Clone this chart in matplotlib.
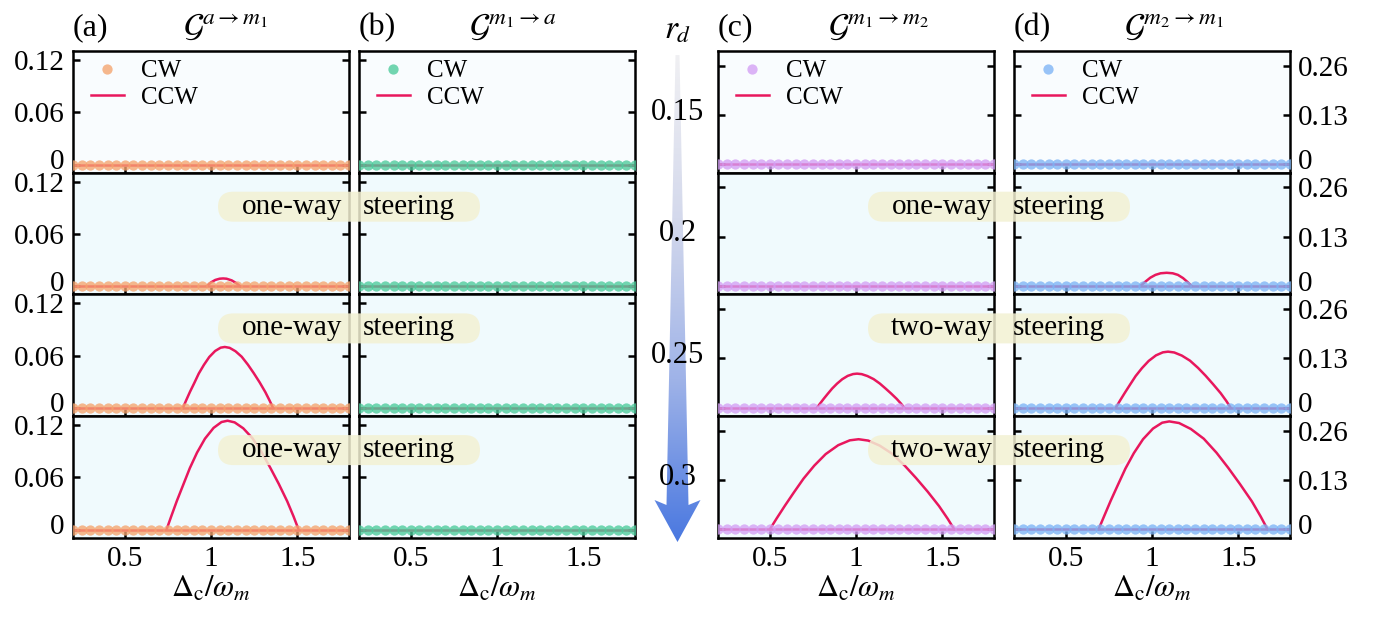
import numpy as np
import matplotlib.pyplot as plt
import matplotlib.transforms as mtransforms
from matplotlib.colors import LinearSegmentedColormap
from matplotlib.patches import Polygon, FancyBboxPatch

plt.rcParams['font.family'] = ['Liberation Serif', 'DejaVu Serif']
plt.rcParams['mathtext.fontset'] = 'stix'

W, H = 1389, 624

# ---- data ----
cw_x = [round(0.2 + 0.05 * i, 2) for i in range(33)]
cw_y = [0.0] * 33

panel_tags = ['(a)', '(b)', '(c)', '(d)']
panel_titles = [r'$\mathcal{G}^{a\rightarrow m_1}$', r'$\mathcal{G}^{m_1\rightarrow a}$',
                r'$\mathcal{G}^{m_1\rightarrow m_2}$', r'$\mathcal{G}^{m_2\rightarrow m_1}$']
cw_colors = ['#f5a46e', '#4ccb9b', '#d39ff5', '#7db4f6']
ccw_color = '#e8175d'
rd_values = ['0.15', '0.2', '0.25', '0.3']

# CCW curves (x, y) per panel, per row (None = zero everywhere)
ccw_a = [None,
         ([0.975, 1.0, 1.025, 1.05, 1.07, 1.09, 1.12, 1.145, 1.17],
          [0, 0.0045, 0.0073, 0.0087, 0.009, 0.0087, 0.0068, 0.0038, 0]),
         ([0.837, 0.856, 0.878, 0.903, 0.929, 0.959, 0.990, 1.024, 1.056, 1.08,
           1.108, 1.142, 1.178, 1.214, 1.248, 1.282, 1.315, 1.340, 1.36],
          [0, 0.0088, 0.0185, 0.0286, 0.0395, 0.0495, 0.0585, 0.0654, 0.0692, 0.070,
           0.069, 0.0651, 0.0588, 0.0497, 0.0399, 0.0294, 0.0182, 0.0084, 0]),
         ([0.742, 0.770, 0.802, 0.838, 0.877, 0.919, 0.965, 1.015, 1.061, 1.096,
           1.137, 1.187, 1.240, 1.294, 1.343, 1.393, 1.442, 1.479, 1.508],
          [0, 0.0156, 0.033, 0.051, 0.0705, 0.0884, 0.1044, 0.1168, 0.1235, 0.125,
           0.1231, 0.1163, 0.105, 0.0888, 0.0713, 0.0525, 0.0325, 0.015, 0])]
ccw_b = [None, None, None, None]
ccw_c = [None, None,
         ([0.773, 0.792, 0.813, 0.836, 0.862, 0.890, 0.920, 0.952, 0.983, 1.006,
           1.033, 1.066, 1.102, 1.138, 1.170, 1.203, 1.236, 1.261, 1.28],
          [0, 0.0113, 0.0238, 0.0367, 0.0508, 0.0636, 0.0752, 0.0841, 0.0889, 0.09,
           0.0887, 0.0837, 0.0756, 0.0639, 0.0513, 0.0378, 0.0234, 0.0108, 0]),
         ([0.50, 0.541, 0.588, 0.639, 0.696, 0.758, 0.824, 0.897, 0.964, 1.015,
           1.071, 1.137, 1.209, 1.281, 1.348, 1.415, 1.481, 1.531, 1.57],
          [0, 0.0298, 0.0628, 0.0971, 0.1342, 0.1683, 0.1987, 0.2223, 0.2351, 0.238,
           0.2344, 0.2213, 0.1999, 0.169, 0.1357, 0.1, 0.0619, 0.0286, 0])]
ccw_d = [None,
         ([0.932, 0.96, 0.99, 1.02, 1.05, 1.085, 1.12, 1.15, 1.18, 1.205, 1.23],
          [0, 0.011, 0.022, 0.0295, 0.0337, 0.035, 0.0337, 0.0295, 0.021, 0.011, 0]),
         ([0.79, 0.814, 0.842, 0.872, 0.905, 0.942, 0.981, 1.023, 1.063, 1.093,
           1.129, 1.173, 1.220, 1.267, 1.311, 1.354, 1.398, 1.431, 1.456],
          [0, 0.0185, 0.0391, 0.0604, 0.0835, 0.1046, 0.1236, 0.1382, 0.1462, 0.148,
           0.1458, 0.1376, 0.1243, 0.1051, 0.0844, 0.0622, 0.0385, 0.0178, 0]),
         ([0.69, 0.723, 0.760, 0.801, 0.846, 0.895, 0.948, 1.006, 1.059, 1.1,
           1.157, 1.225, 1.300, 1.374, 1.442, 1.510, 1.579, 1.630, 1.67],
          [0, 0.0356, 0.0752, 0.1163, 0.1607, 0.2015, 0.238, 0.2662, 0.2816, 0.285,
           0.2807, 0.2651, 0.2394, 0.2024, 0.1625, 0.1197, 0.0741, 0.0342, 0])]
ccw_all = [ccw_a, ccw_b, ccw_c, ccw_d]

steer_left = [None, 'one-way', 'one-way', 'one-way']
steer_right = [None, 'one-way', 'two-way', 'two-way']

# ---- layout (pixels) ----
col_left = [73, 359, 718, 1014]
ax_w = 276
row_top = 51
row_h = 121.7
bg_colors = ['#f9fcfe', '#f0fafd', '#f0fafd', '#f0fafd']

fig = plt.figure(figsize=(W / 100, H / 100), dpi=100)
lift = mtransforms.ScaledTranslation(0, 4 / 72, fig.dpi_scale_trans)

for c in range(4):
    right_scale = c >= 2
    for r in range(4):
        y0 = row_top + row_h * (r + 1)
        ax = fig.add_axes([col_left[c] / W, 1 - y0 / H, ax_w / W, row_h / H])
        ax.set_facecolor(bg_colors[r])
        ax.plot([0.2, 1.8], [0, 0], color=ccw_color, lw=1.8, zorder=2)
        curve = ccw_all[c][r]
        if curve is not None:
            ax.plot(curve[0], curve[1], color=ccw_color, lw=1.8, zorder=2)
        ax.plot(cw_x, cw_y, 'o', color=cw_colors[c], ms=7.4, alpha=0.78, mec='none', zorder=3)
        ax.set_xlim(0.2, 1.8)
        if right_scale:
            ax.set_ylim(-0.022, 0.299)
            ax.set_yticks([0, 0.13, 0.26])
            ax.set_yticklabels(['0', '0.13', '0.26'])
        else:
            ax.set_ylim(-0.0093, 0.1303)
            ax.set_yticks([0, 0.06, 0.12])
            ax.set_yticklabels(['0', '0.06', '0.12'])
        ax.set_xticks([0.5, 1, 1.5])
        ax.set_xticklabels(['0.5', '1', '1.5'])
        ax.tick_params(direction='in', length=5, width=1.8, labelsize=21,
                       left=True, right=True, top=False, bottom=True,
                       labelleft=(c == 0), labelright=(c == 3),
                       labelbottom=(r == 3), pad=6)
        # nudge the "0" labels up a little, as in the original figure
        t0 = ax.yaxis.get_major_ticks()[0]
        t0.label1.set_transform(t0.label1.get_transform() + lift)
        t0.label2.set_transform(t0.label2.get_transform() + lift)
        for s in ax.spines.values():
            s.set_linewidth(1.8)
        if r == 0:
            h1, = ax.plot([], [], 'o', color=cw_colors[c], ms=7.4, alpha=0.78, mec='none')
            h2, = ax.plot([], [], color=ccw_color, lw=1.8)
            ax.legend([h1, h2], ['CW', 'CCW'], loc='upper left', frameon=False,
                      fontsize=18, handlelength=1.3, handletextpad=0.7,
                      borderaxespad=0.1, labelspacing=0.15, bbox_to_anchor=(0.02, 1.03))
            ax.text(0.0, 1.07, panel_tags[c], transform=ax.transAxes, fontsize=23,
                    ha='left', va='bottom')
            ax.text(0.40, 1.07, panel_titles[c], transform=ax.transAxes, fontsize=24,
                    ha='left', va='bottom')
        if r == 3:
            ax.set_xlabel(r'$\Delta_{\rm c}/\omega_m$', fontsize=22, labelpad=2)

# ---- steering labels ----
def steer_box(xl, xr, yc, word):
    box = FancyBboxPatch((xl / W, 1 - (yc + 15) / H), (xr - xl) / W, 30 / H,
                         boxstyle='round,pad=0,rounding_size=0.011',
                         transform=fig.transFigure, fc='#f3f1d3', ec='none',
                         alpha=0.85, zorder=5, mutation_aspect=W / H)
    fig.patches.append(box)
    fig.text((xl + 74) / W, 1 - yc / H, word, fontsize=21, ha='center', va='center', zorder=6)
    fig.text((xl + 191) / W, 1 - yc / H, 'steering', fontsize=21, ha='center', va='center', zorder=6)

for r in range(1, 4):
    yc = row_top + row_h * r + 34
    steer_box(218, 480, yc, steer_left[r])
    steer_box(868, 1130, yc, steer_right[r])

# ---- r_d arrow ----
ax_arr = fig.add_axes([640 / W, 1 - 550 / H, 75 / W, 510 / H])
ax_arr.set_xlim(640, 715)
ax_arr.set_ylim(550, 40)
ax_arr.axis('off')
cmap = LinearSegmentedColormap.from_list('arr', ['#f0f0f3', '#d4d9ec', '#9fb3e8', '#4a78e0'])
grad = np.linspace(0, 1, 256).reshape(-1, 1)
img = ax_arr.imshow(grad, cmap=cmap, aspect='auto', extent=[640, 715, 542, 55], zorder=1)
cx = 677.5
arrow = Polygon([(cx - 2, 55), (cx + 2, 55), (cx + 11, 505), (cx + 23, 500), (cx, 542),
                 (cx - 23, 500), (cx - 11, 505)], closed=True, transform=ax_arr.transData,
                facecolor='none', edgecolor='none')
ax_arr.add_patch(arrow)
img.set_clip_path(arrow)

fig.text(cx / W, 1 - 30 / H, r'$r_d$', fontsize=24, ha='center', va='center')
for r in range(4):
    yc = row_top + row_h * r + 61
    fig.text(cx / W, 1 - yc / H, rd_values[r], fontsize=22, ha='center', va='center', zorder=6)

plt.savefig('out.png', dpi=100)
